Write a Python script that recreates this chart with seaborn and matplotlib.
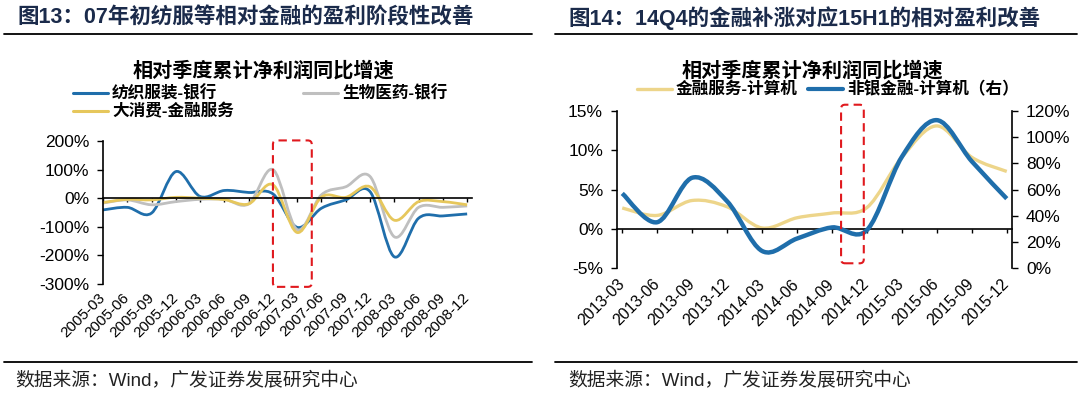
import numpy as np
import pandas as pd
import matplotlib
matplotlib.use("Agg")
import matplotlib.pyplot as plt
import seaborn as sns
from matplotlib.path import Path
from matplotlib.patches import PathPatch, FancyBboxPatch
from matplotlib.lines import Line2D
from matplotlib.ticker import FuncFormatter

# ---- data: left chart (relative cumulative quarterly net profit growth, %)
quarters_l = ['2005-03', '2005-06', '2005-09', '2005-12', '2006-03', '2006-06',
              '2006-09', '2006-12', '2007-03', '2007-06', '2007-09', '2007-12',
              '2008-03', '2008-06', '2008-09', '2008-12']
textile_bank = [-41, -32, -52, 93, 6, 27, 20, 15, -102, -35, -6, 23, -205, -70, -62, -55]
pharma_bank = [-17, -6, -23, -12, -4, -4, -20, 100, -110, 12, 40, 76, -135, -32, -32, -27]
consumer_fin = [-15, -4, -6, 3, 0, -5, -20, 47, -120, 4, 3, 40, -77, -12, -12, -23]
names_l = ['纺织服装-银行', '生物医药-银行', '大消费-金融服务']

# ---- data: right chart
quarters_r = ['2013-03', '2013-06', '2013-09', '2013-12', '2014-03', '2014-06',
              '2014-09', '2014-12', '2015-03', '2015-06', '2015-09', '2015-12']
finsvc_computer = [2.65, 1.7, 3.6, 2.8, 0.1, 1.4, 2.0, 2.7, 9.1, 13.1, 9.1, 7.3]      # left axis
nonbank_computer = [57, 35, 69, 51, 13, 22.5, 31, 29, 85, 113, 81.5, 53]              # right axis
names_r = ['金融服务-计算机', '非银金融-计算机（右）']

BLUE = '#1F6EAB'
GRAY = '#BFBFBF'
YELLOW = '#E6C75C'
YELLOW_R = '#EDD58A'
NAVY = '#1B2B4B'
RED = '#E0191E'

sns.set_theme(style='white')
plt.rcParams['font.family'] = ['Liberation Sans', 'Noto Sans CJK SC']
plt.rcParams['axes.unicode_minus'] = False
CJK = ['Liberation Sans', 'Noto Sans CJK SC']

W, H = 1080, 394
fig = plt.figure(figsize=(W / 100, H / 100), dpi=100)


def fx(px):
    return px / W


def fy(py):
    return 1 - py / H


def smooth_lines(ax, widths):
    # turn seaborn's straight segments into Excel-like smoothed curves
    for line, lw in zip(list(ax.get_lines()), widths):
        pts = line.get_xydata()
        ext = np.vstack([pts[0], pts, pts[-1]])
        verts, codes = [pts[0]], [Path.MOVETO]
        for i in range(len(pts) - 1):
            p0, p1, p2, p3 = ext[i], ext[i + 1], ext[i + 2], ext[i + 3]
            verts += [p1 + (p2 - p0) / 6, p2 - (p3 - p1) / 6, p2]
            codes += [Path.CURVE4] * 3
        ax.add_patch(PathPatch(Path(verts, codes), fill=False, edgecolor=line.get_color(),
                               lw=lw, capstyle='butt', joinstyle='round',
                               zorder=line.get_zorder(), clip_on=False))
        line.remove()


def highlight(ax, x0, x1, y0, y1):
    inv = fig.transFigure.inverted()
    (a, b) = inv.transform(ax.transData.transform((x0, y0)))
    (c, d) = inv.transform(ax.transData.transform((x1, y1)))
    box = FancyBboxPatch((a, b), c - a, d - b, transform=fig.transFigure,
                         boxstyle='round,pad=0,rounding_size=%f' % (4 / W),
                         mutation_aspect=W / H, fill=False, edgecolor=RED,
                         lw=1.5, linestyle=(0, (4, 2.5)), zorder=5)
    fig.add_artist(box)


def bottom_labels(ax, labels, pad, size):
    ax.tick_params(axis='x', labelbottom=False, direction='out', length=3,
                   width=1, color='black', bottom=True)
    sec = ax.secondary_xaxis('bottom')
    sec.set_xticks(range(len(labels)), labels=labels)
    sec.tick_params(length=0, pad=pad, labelsize=size, colors='black')
    sec.spines['bottom'].set_visible(False)
    plt.setp(sec.get_xticklabels(), rotation=45, ha='right', va='center',
             rotation_mode='anchor')


pct = FuncFormatter(lambda v, _: f'{v:.0f}%')

# ================= left chart =================
ax = fig.add_axes([fx(103), fy(284), fx(369), 143 / H])
df_l = pd.DataFrame({'idx': list(range(len(quarters_l))) * 3,
                     'value': textile_bank + pharma_bank + consumer_fin,
                     'series': np.repeat(names_l, len(quarters_l))})
sns.lineplot(data=df_l, x='idx', y='value', hue='series', hue_order=names_l,
             palette=dict(zip(names_l, [BLUE, GRAY, YELLOW])), ax=ax, legend=False)
smooth_lines(ax, [2.0, 2.0, 2.0])
ax.set_xlim(0, 15.2)
ax.set_ylim(-300, 200)
ax.set_yticks(range(-300, 201, 100))
ax.yaxis.set_major_formatter(pct)
ax.set_xticks(range(len(quarters_l)))
ax.set_xlabel('')
ax.set_ylabel('')
sns.despine(ax=ax, top=True, right=True)
ax.spines['bottom'].set_position(('data', 0))
for s in ['left', 'bottom']:
    ax.spines[s].set_color('black')
    ax.spines[s].set_linewidth(1.2)
ax.tick_params(axis='y', direction='out', length=4, width=1, color='black',
               labelsize=12.5, labelcolor='black', left=True, pad=6)
bottom_labels(ax, quarters_l, 8, 11)
highlight(ax, 7.0, 8.6, -310, 202)

# ================= right chart =================
ax2 = fig.add_axes([fx(617), fy(268), fx(395), 157 / H])
ax2r = ax2.twinx()
df_r1 = pd.DataFrame({'idx': range(len(quarters_r)), 'value': finsvc_computer})
df_r2 = pd.DataFrame({'idx': range(len(quarters_r)), 'value': nonbank_computer})
sns.lineplot(data=df_r1, x='idx', y='value', color=YELLOW_R, ax=ax2)
sns.lineplot(data=df_r2, x='idx', y='value', color=BLUE, ax=ax2r)
smooth_lines(ax2, [2.4])
smooth_lines(ax2r, [3.2])
ax2.set_xlim(-0.15, 11.15)
ax2.set_ylim(-5, 15)
ax2.set_yticks(range(-5, 16, 5))
ax2r.set_ylim(0, 120)
ax2r.set_yticks(range(0, 121, 20))
ax2.yaxis.set_major_formatter(pct)
ax2r.yaxis.set_major_formatter(pct)
ax2.set_xticks(range(len(quarters_r)))
for a in (ax2, ax2r):
    a.set_xlabel('')
    a.set_ylabel('')
    for s in a.spines.values():
        s.set_visible(False)
ax2.spines['left'].set_visible(True)
ax2.spines['bottom'].set_visible(True)
ax2.spines['bottom'].set_position(('data', 0))
ax2r.spines['right'].set_visible(True)
for s in [ax2.spines['left'], ax2.spines['bottom'], ax2r.spines['right']]:
    s.set_color('black')
    s.set_linewidth(1.2)
ax2.tick_params(axis='y', direction='out', length=4, width=1, color='black',
                labelsize=12.5, labelcolor='black', left=True, pad=6)
ax2r.tick_params(axis='y', direction='out', length=4, width=1, color='black',
                 labelsize=12.5, labelcolor='black', right=True, pad=6)
ax2r.tick_params(axis='x', bottom=False, labelbottom=False)
bottom_labels(ax2, quarters_r, 10, 11.5)
highlight(ax2, 6.26, 6.91, -4.4, 15.8)

# ================= titles, legends, notes =================
title_kw = dict(fontsize=15.5, fontweight='bold', color=NAVY, va='center', family=CJK)
fig.text(fx(17), fy(18), '图13：07年初纺服等相对金融的盈利阶段性改善', **title_kw)
fig.text(fx(568), fy(18), '图14：14Q4的金融补涨对应15H1的相对盈利改善', **title_kw)

for x0, x1 in [(4, 532), (555, 1077)]:
    fig.add_artist(Line2D([fx(x0), fx(x1)], [fy(34), fy(34)], color='black', lw=1.3))
    fig.add_artist(Line2D([fx(x0), fx(x1)], [fy(362), fy(362)], color='black', lw=1.3))

sub_kw = dict(fontsize=14.5, fontweight='bold', color='black', ha='center', va='center', family=CJK)
fig.text(fx(263), fy(71), '相对季度累计净利润同比增速', **sub_kw)
fig.text(fx(812), fy(71), '相对季度累计净利润同比增速', **sub_kw)

leg_kw = dict(fontsize=12, fontweight='bold', color='black', va='center', family=CJK)
legend_items = [
    (73, 93, BLUE, names_l[0], 2.2),
    (303, 93, GRAY, names_l[1], 2.2),
    (73, 111, YELLOW, names_l[2], 2.2),
    (637, 89, YELLOW_R, names_r[0], 2.4),
    (808, 89, BLUE, names_r[1], 3.0),
]
for x, y, c, label, lw in legend_items:
    fig.add_artist(Line2D([fx(x), fx(x + 35)], [fy(y), fy(y)], color=c, lw=lw))
    fig.text(fx(x + 39), fy(y), label, **leg_kw)

note_kw = dict(fontsize=13.5, color='#222222', va='center', family=CJK)
fig.text(fx(15), fy(380), '数据来源：Wind，广发证券发展研究中心', **note_kw)
fig.text(fx(568), fy(380), '数据来源：Wind，广发证券发展研究中心', **note_kw)

fig.savefig('out.png', dpi=100, facecolor='white')
